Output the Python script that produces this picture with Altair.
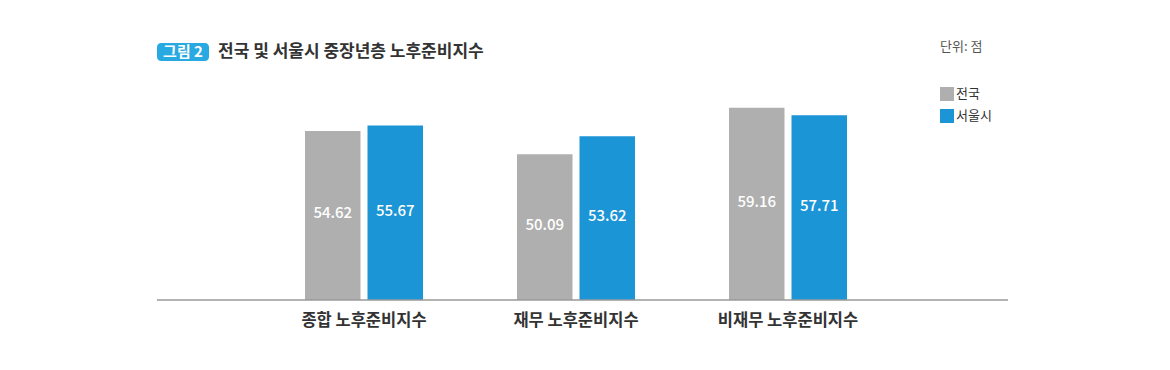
import altair as alt
import pandas as pd

categories = ["종합 노후준비지수", "재무 노후준비지수", "비재무 노후준비지수"]
series = ["전국", "서울시"]
national = [54.62, 50.09, 59.16]
seoul = [55.67, 53.62, 57.71]
colors = ["#afafaf", "#1b95d6"]
title_badge = "그림 2"
title_text = "전국 및 서울시 중장년층 노후준비지수"
unit_text = "단위: 점"

Y0 = 21.7
Y1 = 66.5
FONT = "Noto Sans CJK KR"

rows = []
for c, a, b in zip(categories, national, seoul):
    rows.append({"category": c, "series": series[0], "value": a})
    rows.append({"category": c, "series": series[1], "value": b})
df = pd.DataFrame(rows)

W, H = 851, 230

x_enc = alt.X("category:N", sort=categories,
              scale=alt.Scale(domain=categories, range=[101, 737], paddingInner=0, paddingOuter=0),
              axis=alt.Axis(title=None, domain=False, ticks=False, labelAngle=0,
                            labelFont=FONT, labelFontSize=16.5, labelFontWeight="bold",
                            labelColor="#333333", labelPadding=12))
xo_enc = alt.XOffset("series:N", sort=series,
                     scale=alt.Scale(domain=series, paddingInner=0.112, paddingOuter=0.752))
y_scale = alt.Scale(domain=[Y0, Y1], zero=False, nice=False)

base = alt.Chart(df)

bars = base.mark_bar().encode(
    x=x_enc,
    xOffset=xo_enc,
    y=alt.Y("value:Q", scale=y_scale, axis=None),
    y2=alt.Y2("base:Q"),
    color=alt.Color("series:N", sort=series,
                    scale=alt.Scale(domain=series, range=colors),
                    legend=alt.Legend(title=None, orient="none", legendX=783, legendY=17,
                                      padding=0, symbolType="square", symbolSize=196,
                                      symbolStrokeWidth=0, labelFont=FONT, labelFontSize=13,
                                      labelColor="#333333", labelOffset=2, rowPadding=8)),
).transform_calculate(base=f"{Y0}")

labels = base.mark_text(font=FONT, fontSize=15, fontWeight=500, color="white",
                        baseline="middle", dy=-2).encode(
    x=x_enc,
    xOffset=xo_enc,
    y=alt.Y("mid:Q", scale=y_scale, axis=None),
    text=alt.Text("value:Q", format=".2f"),
).transform_calculate(mid=f"(datum.value + {Y0}) / 2")

baseline = alt.Chart(pd.DataFrame({"k": [0]})).mark_rule(color="#9a9a9a", strokeWidth=1.5).encode(
    x=alt.value(0), x2=alt.value(W), y=alt.value(H)
)

badge_df = pd.DataFrame({"t": [title_badge]})
badge = alt.Chart(badge_df).mark_rect(color="#29a9e1", cornerRadius=4).encode(
    x=alt.value(0), x2=alt.value(52), y=alt.value(-27), y2=alt.value(-9)
)
badge_txt = alt.Chart(badge_df).mark_text(font=FONT, fontSize=15, fontWeight="bold", color="white",
                                          align="center", baseline="middle").encode(
    x=alt.value(26), y=alt.value(-18), text="t:N"
)
title = alt.Chart(pd.DataFrame({"t": [title_text]})).mark_text(
    font=FONT, fontSize=17, fontWeight="bold", color="#333333", align="left", baseline="middle"
).encode(x=alt.value(61), y=alt.value(-18), text="t:N")
unit = alt.Chart(pd.DataFrame({"t": [unit_text]})).mark_text(
    font=FONT, fontSize=13, color="#555555", align="left", baseline="middle"
).encode(x=alt.value(783), y=alt.value(-23), text="t:N")

chart = alt.layer(bars, labels, baseline, badge, badge_txt, title, unit).properties(
    width=W, height=H,
    autosize=alt.AutoSizeParams(type="none"),
    padding={"left": 157, "top": 70, "right": 162, "bottom": 70},
    background="white",
).configure_view(stroke=None)

chart.save("out.html", embed_options={"renderer": "svg", "actions": False})
